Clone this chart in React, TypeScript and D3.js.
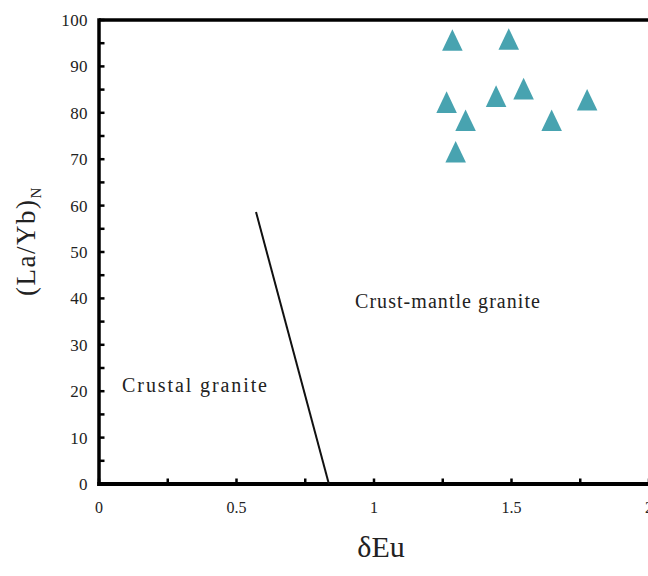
import React from "react";
import * as d3 from "d3";

const sampleX = [1.285, 1.49, 1.264, 1.333, 1.444, 1.544, 1.775, 1.646, 1.297];
const sampleY = [95.7, 95.9, 82.3, 78.4, 83.6, 85.2, 82.8, 78.4, 71.6];
const boundaryX = [0.571, 0.836];
const boundaryY = [58.6, 0];
const xMajorTicks = [0, 0.5, 1, 1.5, 2];
const xTickLabels = ["0", "0.5", "1", "1.5", "2"];
const xMinorTicks = [0.25, 0.75, 1.25, 1.75];
const yMajorTicks = [0, 10, 20, 30, 40, 50, 60, 70, 80, 90, 100];
const yMinorTicks = [5, 15, 25, 35, 45, 55, 65, 75, 85, 95];
const regionLabels = ["Crust-mantle granite", "Crustal granite"];
const regionX = [0.931, 0.084];
const regionY = [37.9, 19.8];
const regionSpacing = [1.05, 1.9];

const W = 648;
const H = 576;
const FONT = "'Liberation Serif', 'Times New Roman', serif";
const TEAL = "#48a3b0";

// tall triangle centred on its bounding box (width 20.5, height 21.5 at size 440)
const tallTriangle = {
  draw(ctx: any, size: number) {
    const w = Math.sqrt(size) * 0.98;
    const h = Math.sqrt(size) * 1.03;
    ctx.moveTo(0, -h / 2);
    ctx.lineTo(w / 2, h / 2);
    ctx.lineTo(-w / 2, h / 2);
    ctx.closePath();
  },
};

export default function App() {
  const x = d3.scaleLinear().domain([0, 2]).range([99, 649]);
  const y = d3.scaleLinear().domain([0, 100]).range([484, 20]);
  const tri = d3.symbol().type(tallTriangle as any).size(440);
  const line = d3
    .line<number>()
    .x((_, i) => x(boundaryX[i]))
    .y((_, i) => y(boundaryY[i]));

  return (
    <svg
      width={W}
      height={H}
      style={{ position: "absolute", left: 0, top: 0, background: "#fff" }}
    >
      <rect width={W} height={H} fill="#fff" />
      {/* top frame */}
      <line x1={x(0)} x2={W + 5} y1={y(100)} y2={y(100)} stroke="#000" strokeWidth={3.5} />
      {/* y axis */}
      <line x1={x(0)} x2={x(0)} y1={y(100) - 1.75} y2={y(0) + 2} stroke="#000" strokeWidth={3.5} />
      {/* x axis */}
      <line x1={x(0) - 1.75} x2={W + 5} y1={y(0)} y2={y(0)} stroke="#000" strokeWidth={4} />
      {yMajorTicks.concat(yMinorTicks).map((t, i) => (
        <line key={"yt" + i} x1={x(0)} x2={x(0) + 5.5} y1={y(t)} y2={y(t)} stroke="#000" strokeWidth={2.5} />
      ))}
      {xMajorTicks.concat(xMinorTicks).map((t, i) => (
        <line key={"xt" + i} x1={x(t)} x2={x(t)} y1={y(0)} y2={y(0) - 5.5} stroke="#000" strokeWidth={2.5} />
      ))}
      {yMajorTicks.map((t, i) => (
        <text key={"yl" + i} x={88} y={y(t)} dy="0.35em" textAnchor="end" fontFamily={FONT} fontSize={17} letterSpacing={0.4} fill="#222">
          {t}
        </text>
      ))}
      {xMajorTicks.map((t, i) => (
        <text key={"xl" + i} x={x(t)} y={513} textAnchor="middle" fontFamily={FONT} fontSize={16} fill="#222">
          {xTickLabels[i]}
        </text>
      ))}
      <path d={line(boundaryX) || ""} fill="none" stroke="#111" strokeWidth={2} />
      {regionLabels.map((s, i) => (
        <text key={"r" + i} x={x(regionX[i])} y={y(regionY[i])} fontFamily={FONT} fontSize={20} letterSpacing={regionSpacing[i]} fill="#222">
          {s}
        </text>
      ))}
      {sampleX.map((v, i) => (
        <path key={"p" + i} d={tri() || ""} transform={`translate(${x(v)},${y(sampleY[i])})`} fill={TEAL} />
      ))}
      <text x={381} y={557} textAnchor="middle" fontFamily={FONT} fontSize={30} fill="#222">
        δEu
      </text>
      <text
        transform="translate(35,241) rotate(-90)"
        textAnchor="middle"
        fontFamily={FONT}
        fontSize={27}
        letterSpacing={1.5}
        fill="#222"
      >
        (La/Yb)
        <tspan fontSize={15} dy={6}>N</tspan>
      </text>
    </svg>
  );
}
